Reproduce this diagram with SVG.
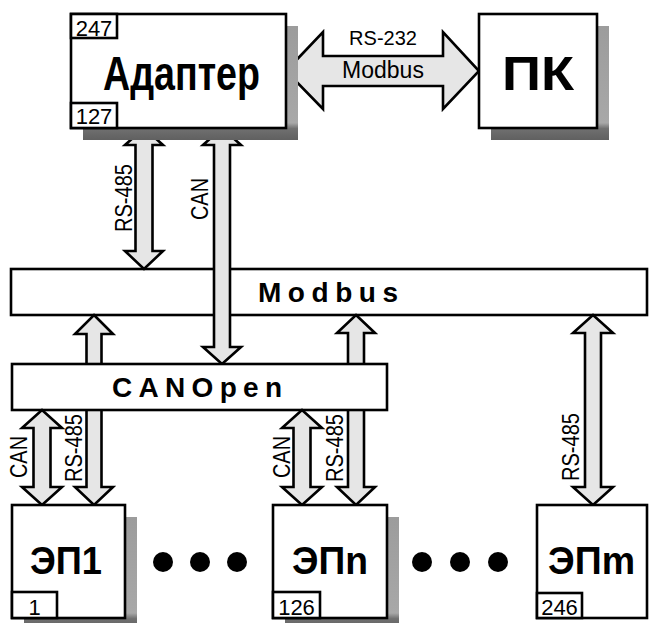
<svg xmlns="http://www.w3.org/2000/svg" width="650" height="623" viewBox="0 0 650 623">
<defs>
<linearGradient id="sh" x1="0" y1="0" x2="0" y2="1">
<stop offset="0" stop-color="#9c9c9c"/>
<stop offset="0.85" stop-color="#a8a8a8"/>
<stop offset="0.9" stop-color="#707070"/>
<stop offset="1" stop-color="#606060"/>
</linearGradient>
<style>
.box{fill:#fff;stroke:#000;stroke-width:2.6}
.shadow{fill:url(#sh);stroke:none}
.arr{fill:#e6e6e6;stroke:#000;stroke-width:2.6;stroke-linejoin:miter}
.title{font-family:"Liberation Sans",Arial,sans-serif;font-weight:bold;fill:#000;text-anchor:middle}
.lbl{font-family:"Liberation Sans",Arial,sans-serif;fill:#000;text-anchor:middle}
.num{font-family:"Liberation Sans",Arial,sans-serif;font-size:22px;fill:#000;text-anchor:middle}
.dot{fill:#000}
</style>
</defs>
<rect width="650" height="623" fill="#fff"/>

<g id="modbus-bar">
<rect class="box" x="11" y="269" width="636" height="46"/>
<text class="title" x="328" y="302" font-size="28" textLength="140">Modbus</text>
</g>

<g id="connectors">
<path class="arr" d="M144,128 L163,145 L152.5,145 L152.5,251 L163,251 L144,269 L125,251 L135.5,251 L135.5,145 L125,145 Z"/>
<path class="arr" d="M222,128 L241,145 L230,145 L230,347 L241,347 L222,364 L203,347 L214,347 L214,145 L203,145 Z"/>
<path class="arr" d="M94,315 L113,334 L101.5,334 L101.5,487 L113,487 L94,505 L75,487 L86.5,487 L86.5,334 L75,334 Z"/>
<path class="arr" d="M356,315 L375,333 L364,333 L364,487 L375,487 L356,505 L337,487 L348,487 L348,333 L337,333 Z"/>
<path class="arr" d="M593,315 L613,333 L601,333 L601,487 L613,487 L593,505 L573,487 L585,487 L585,333 L573,333 Z"/>
<path class="arr" d="M286,71 L323,32 L323,56 L443,56 L443,32 L479,71 L443,109 L443,86 L323,86 L323,109 Z"/>
<text class="lbl" x="383" y="45" font-size="20">RS-232</text>
<text class="lbl" x="383" y="78" font-size="23">Modbus</text>
<text class="lbl" font-size="23" textLength="68" lengthAdjust="spacingAndGlyphs" transform="translate(132,198) rotate(-90)">RS-485</text>
<text class="lbl" font-size="23" textLength="42" lengthAdjust="spacingAndGlyphs" transform="translate(208,199) rotate(-90)">CAN</text>
</g>

<g id="canopen-bar">
<rect class="box" x="12" y="364" width="375" height="46"/>
<text class="title" x="197" y="397" font-size="28" textLength="170">CANOpen</text>
</g>

<g id="connectors-lower">
<path class="arr" d="M42,410 L62,428 L50.5,428 L50.5,487 L62,487 L42,505 L22,487 L33.5,487 L33.5,428 L22,428 Z"/>
<path class="arr" d="M302,410 L322,428 L310.5,428 L310.5,487 L322,487 L302,505 L282,487 L293.5,487 L293.5,428 L282,428 Z"/>
<text class="lbl" font-size="23" textLength="42" lengthAdjust="spacingAndGlyphs" transform="translate(27,457) rotate(-90)">CAN</text>
<text class="lbl" font-size="23" textLength="68" lengthAdjust="spacingAndGlyphs" transform="translate(82,448) rotate(-90)">RS-485</text>
<text class="lbl" font-size="23" textLength="42" lengthAdjust="spacingAndGlyphs" transform="translate(290,457) rotate(-90)">CAN</text>
<text class="lbl" font-size="23" textLength="68" lengthAdjust="spacingAndGlyphs" transform="translate(343,448) rotate(-90)">RS-485</text>
<text class="lbl" font-size="23" textLength="68" lengthAdjust="spacingAndGlyphs" transform="translate(579,447) rotate(-90)">RS-485</text>
</g>

<g id="adapter">
<rect class="shadow" x="83" y="26" width="215" height="114"/>
<rect class="box" x="71" y="14" width="215" height="114"/>
<rect class="box" x="71" y="14" width="46" height="24"/>
<text class="num" x="94" y="36">247</text>
<rect class="box" x="71" y="103" width="46" height="25"/>
<text class="num" x="94" y="124">127</text>
<text class="title" x="181.5" y="90" font-size="48" textLength="157" lengthAdjust="spacingAndGlyphs">Адаптер</text>
</g>

<g id="pk">
<rect class="shadow" x="491" y="26" width="118" height="114"/>
<rect class="box" x="479" y="14" width="118" height="114"/>
<text class="title" x="538" y="90" font-size="48" textLength="72" lengthAdjust="spacingAndGlyphs">ПК</text>
</g>

<g id="ep1">
<rect class="shadow" x="24" y="517" width="113" height="113"/>
<rect class="box" x="12" y="505" width="113" height="113"/>
<rect class="box" x="12" y="592" width="45" height="26"/>
<text class="num" x="34.5" y="615">1</text>
<text class="title" x="66" y="574" font-size="38" textLength="72" lengthAdjust="spacingAndGlyphs">ЭП1</text>
</g>

<g id="dots1">
<circle class="dot" cx="163" cy="562" r="10"/>
<circle class="dot" cx="200" cy="562" r="10"/>
<circle class="dot" cx="237" cy="562" r="10"/>
</g>

<g id="epn">
<rect class="shadow" x="285" y="517" width="114" height="113"/>
<rect class="box" x="273" y="505" width="114" height="113"/>
<rect class="box" x="273" y="592" width="47" height="26"/>
<text class="num" x="296.5" y="615">126</text>
<text class="title" x="330" y="574" font-size="38" textLength="76" lengthAdjust="spacingAndGlyphs">ЭПn</text>
</g>

<g id="dots2">
<circle class="dot" cx="422" cy="562" r="10"/>
<circle class="dot" cx="460" cy="562" r="10"/>
<circle class="dot" cx="498" cy="562" r="10"/>
</g>

<g id="epm">
<rect class="box" x="537" y="505" width="110" height="113"/>
<rect class="box" x="537" y="593" width="45" height="25"/>
<text class="num" x="559.5" y="615">246</text>
<text class="title" x="591.5" y="574" font-size="38" textLength="87" lengthAdjust="spacingAndGlyphs">ЭПm</text>
</g>
</svg>
